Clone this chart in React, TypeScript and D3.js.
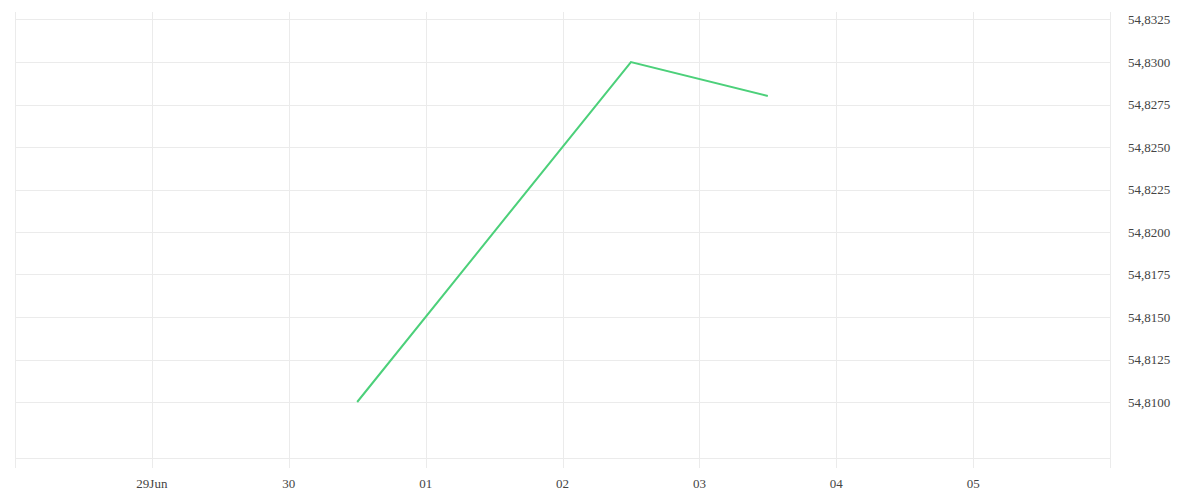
import React from "react";
import * as d3 from "d3";

const dates = ["2024-06-30T12:00", "2024-07-02T12:00", "2024-07-03T12:00"];
const values = [54.81, 54.83, 54.828];
const yTicks = [54.81, 54.8125, 54.815, 54.8175, 54.82, 54.8225, 54.825, 54.8275, 54.83, 54.8325];
const xTickDates = ["2024-06-29", "2024-06-30", "2024-07-01", "2024-07-02", "2024-07-03", "2024-07-04", "2024-07-05"];
const xTickLabels = ["29Jun", "30", "01", "02", "03", "04", "05"];

const W = 1200, H = 500;
const left = 15, right = 1110, top = 12, bottom = 458;

export default function App() {
  const parse = (s: string) => new Date(s);
  const x = d3.scaleTime().domain([parse("2024-06-28"), parse("2024-07-06")]).range([left, right]);
  const y = d3.scaleLinear().domain([54.81 - (56 / 42.5) * 0.0025, 54.8325 + (7.5 / 42.5) * 0.0025]).range([bottom, top]);
  const line = d3.line<number>().x((_, i) => x(parse(dates[i]))).y((v) => y(v));
  const fmt = (v: number) => v.toFixed(4).replace(".", ",");
  const font = "'Liberation Serif', 'DejaVu Serif', serif";
  return (
    <svg width={W} height={H} style={{ position: "absolute", left: 0, top: 0, background: "#fff" }}>
      {yTicks.map((t) => (
        <line key={"h" + t} x1={left} x2={right} y1={Math.round(y(t)) + 0.5} y2={Math.round(y(t)) + 0.5} stroke="#ebebeb" strokeWidth={1} />
      ))}
      <line x1={left} x2={right} y1={bottom + 0.5} y2={bottom + 0.5} stroke="#ebebeb" />
      {[parse("2024-06-28"), ...xTickDates.map(parse), parse("2024-07-06")].map((d, i) => (
        <line key={"v" + i} x1={Math.round(x(d)) + 0.5} x2={Math.round(x(d)) + 0.5} y1={top} y2={468} stroke="#ebebeb" />
      ))}
      <path d={line(values) || ""} fill="none" stroke="#4cd07a" strokeWidth={2} />
      {yTicks.map((t) => (
        <text key={"yl" + t} x={1128} y={y(t) + 4.5} fontSize={13} fill="#444" fontFamily={font}>{fmt(t)}</text>
      ))}
      {xTickDates.map((d, i) => (
        <text key={"xl" + i} x={x(parse(d))} y={488} fontSize={13} fill="#444" textAnchor="middle" fontFamily={font}>{xTickLabels[i]}</text>
      ))}
    </svg>
  );
}
